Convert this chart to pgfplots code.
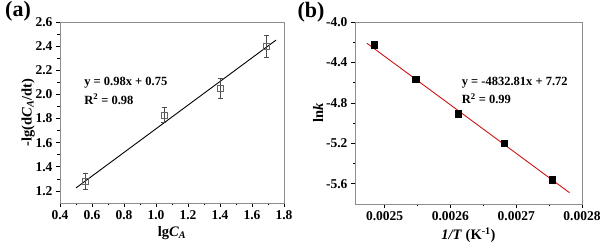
\documentclass[border=0pt]{standalone}
\usepackage{pgfplots}
\pgfplotsset{compat=1.18}
\usepackage{fontspec}
\setmainfont{Liberation Serif}
\definecolor{fitred}{RGB}{205,20,20}
\begin{document}
\begin{tikzpicture}[x=1pt,y=1pt]
\useasboundingbox (0,0) rectangle (606,248);
\pgfplotsset{
  common/.style={
    scale only axis,
    anchor=south west,
    axis line style={black!45, line width=0.8pt},
    tick style={black, line width=0.6pt},
    tick align=outside,
    xtick pos=left, ytick pos=left,
    major tick length=4pt, minor tick length=2.5pt,
    ticklabel style={font=\fontsize{13.5}{15}\selectfont\bfseries},
    label style={font=\fontsize{14.5}{16}\selectfont\bfseries},
    /pgf/number format/assume math mode=true,
  }
}
\node[font=\fontsize{22}{22}\selectfont\bfseries] at (18,237) {(a)};
\node[font=\fontsize{22}{22}\selectfont\bfseries] at (311,236) {(b)};

\begin{axis}[common,
  at={(60pt,45pt)}, width=224pt, height=181pt,
  xmin=0.4, xmax=1.8, ymin=1.1, ymax=2.6,
  xtick={0.4,0.6,0.8,1.0,1.2,1.4,1.6,1.8},
  ytick={1.2,1.4,1.6,1.8,2.0,2.2,2.4,2.6},
  minor x tick num=1, minor y tick num=1,
  xticklabel style={/pgf/number format/.cd, fixed, fixed zerofill, precision=1},
  yticklabel style={/pgf/number format/.cd, fixed, fixed zerofill, precision=1},
  xlabel={lg\textit{C}\textsubscript{\textit{A}}},
  ylabel={-lg(d\textit{C}\textsubscript{\textit{A}}/dt)},
  ylabel shift=-6pt,
]
\addplot[black, line width=0.9pt] coordinates {(0.5,1.225) (1.75,2.45)};
\addplot[only marks, mark=square, mark size=3pt,
  mark options={black!60, line width=0.6pt, fill=white},
  error bars/.cd, y dir=both, y explicit,
  error bar style={black!70, line width=0.7pt},
  error mark options={rotate=90, mark size=2.5pt, black!70, line width=0.7pt}]
  table[x=x, y=y, y error=e] {
x y e
0.56 1.28 0.063
1.05 1.83 0.060
1.40 2.05 0.080
1.69 2.40 0.090
};
\node[anchor=west, font=\fontsize{12.5}{14}\selectfont\bfseries] at (axis cs:0.53,2.094) {y = 0.98x + 0.75};
\node[anchor=west, font=\fontsize{12.5}{14}\selectfont\bfseries] at (axis cs:0.53,1.96) {R\textsuperscript{2} = 0.98};
\end{axis}

\begin{axis}[common,
  at={(355pt,44pt)}, width=227pt, height=182pt,
  xmin=0.002455, xmax=0.0028, ymin=-5.8, ymax=-4.0,
  xtick={0.0025,0.0026,0.0027,0.0028},
  ytick={-5.6,-5.2,-4.8,-4.4,-4.0},
  minor x tick num=1, minor y tick num=1,
  scaled x ticks=false,
  xticklabel style={/pgf/number format/.cd, fixed, fixed zerofill, precision=4},
  yticklabel style={/pgf/number format/.cd, fixed, fixed zerofill, precision=1},
  xlabel={\textit{1/T} (K\textsuperscript{-1})},
  ylabel={ln\textit{k}},
  ylabel shift=-4pt,
]
\addplot[fitred, line width=0.9pt] coordinates {(0.002473,-4.21) (0.002781,-5.688)};
\addplot[only marks, mark=square*, mark size=3.3pt, mark options={black, fill=black}]
  table[x=x, y=y] {
x y
0.002484 -4.227
0.002547 -4.565
0.002612 -4.906
0.002682 -5.199
0.002755 -5.560
};
\node[anchor=west, font=\fontsize{12.5}{14}\selectfont\bfseries] at (axis cs:0.002612,-4.60) {y = -4832.81x + 7.72};
\node[anchor=west, font=\fontsize{12.5}{14}\selectfont\bfseries] at (axis cs:0.002612,-4.76) {R\textsuperscript{2} = 0.99};
\end{axis}
\end{tikzpicture}
\end{document}
